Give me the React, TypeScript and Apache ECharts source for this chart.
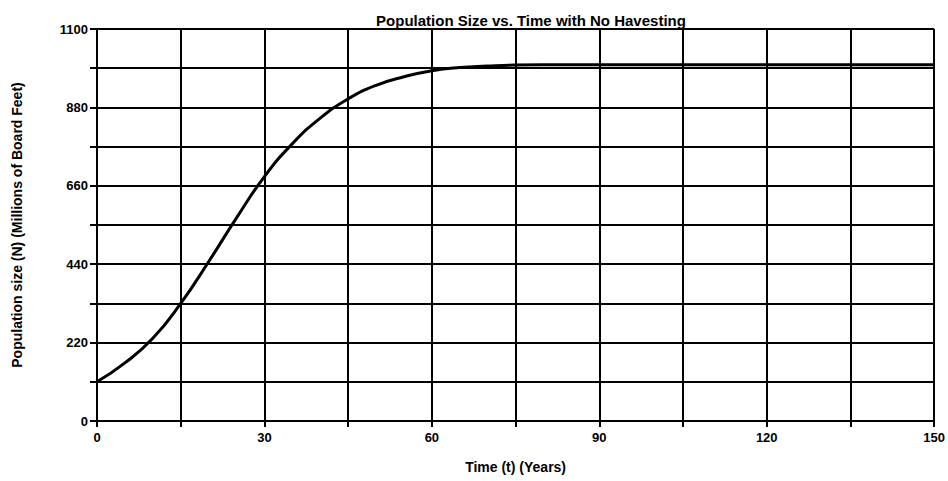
import React, { useEffect, useRef } from "react";
import * as echarts from "echarts";

const years = [0, 5, 10, 15, 20, 25, 30, 35, 40, 45, 50, 55, 60, 65, 70, 75, 80, 90, 100, 110, 120, 130, 140, 150];
const population = [110, 163, 232, 330, 447, 570, 686, 778, 850, 904, 942, 966, 983, 992, 996, 999, 1000, 1000, 1000, 1000, 1000, 1000, 1000, 1000];

const xLabels = [0, 30, 60, 90, 120, 150];
const yLabels = [0, 220, 440, 660, 880, 1100];

const FONT = "'Liberation Sans', Arial, sans-serif";

export default function App() {
  const ref = useRef<HTMLDivElement>(null);
  useEffect(() => {
    if (!ref.current) return;
    const chart = echarts.init(ref.current, undefined, { renderer: "svg" });
    chart.setOption({
      animation: false,
      backgroundColor: "#ffffff",
      title: {
        text: "Population Size vs. Time with No Havesting",
        left: 526,
        top: 8,
        textAlign: "center",
        textStyle: { fontFamily: FONT, fontSize: 15, fontWeight: "bold", color: "#000" },
      },
      grid: { left: 97, right: 2, top: 29, bottom: 60, containLabel: false },
      xAxis: {
        type: "value",
        min: 0,
        max: 150,
        interval: 15,
        name: "Time (t) (Years)",
        nameLocation: "middle",
        nameGap: 39,
        nameTextStyle: { fontFamily: FONT, fontSize: 14, fontWeight: "bold", color: "#000" },
        axisLine: { show: true, lineStyle: { color: "#000", width: 2 } },
        axisTick: { show: true, length: 6, lineStyle: { color: "#000", width: 2 } },
        axisLabel: {
          fontFamily: FONT,
          fontSize: 13,
          fontWeight: "bold",
          color: "#000",
          margin: 10,
          formatter: (v: number) => (xLabels.includes(v) ? String(v) : ""),
        },
        splitLine: { show: true, lineStyle: { color: "#000", width: 2 } },
      },
      yAxis: {
        type: "value",
        min: 0,
        max: 1100,
        interval: 110,
        name: "Population size (N) (Millions of Board Feet)",
        nameLocation: "middle",
        nameGap: 73,
        nameTextStyle: { fontFamily: FONT, fontSize: 14, fontWeight: "bold", color: "#000" },
        axisLine: { show: true, lineStyle: { color: "#000", width: 2 } },
        axisTick: { show: true, length: 7, lineStyle: { color: "#000", width: 2 } },
        axisLabel: {
          fontFamily: FONT,
          fontSize: 13,
          fontWeight: "bold",
          color: "#000",
          margin: 9,
          formatter: (v: number) => (yLabels.includes(v) ? String(v) : ""),
        },
        splitLine: { show: true, lineStyle: { color: "#000", width: 2 } },
      },
      series: [
        {
          type: "line",
          data: years.map((t, i) => [t, population[i]]),
          smooth: 0.5,
          showSymbol: false,
          lineStyle: { color: "#000", width: 3 },
        },
      ],
    });
    return () => chart.dispose();
  }, []);
  return (
    <div
      ref={ref}
      style={{ position: "fixed", left: 0, top: 0, width: 948, height: 481 }}
    />
  );
}
